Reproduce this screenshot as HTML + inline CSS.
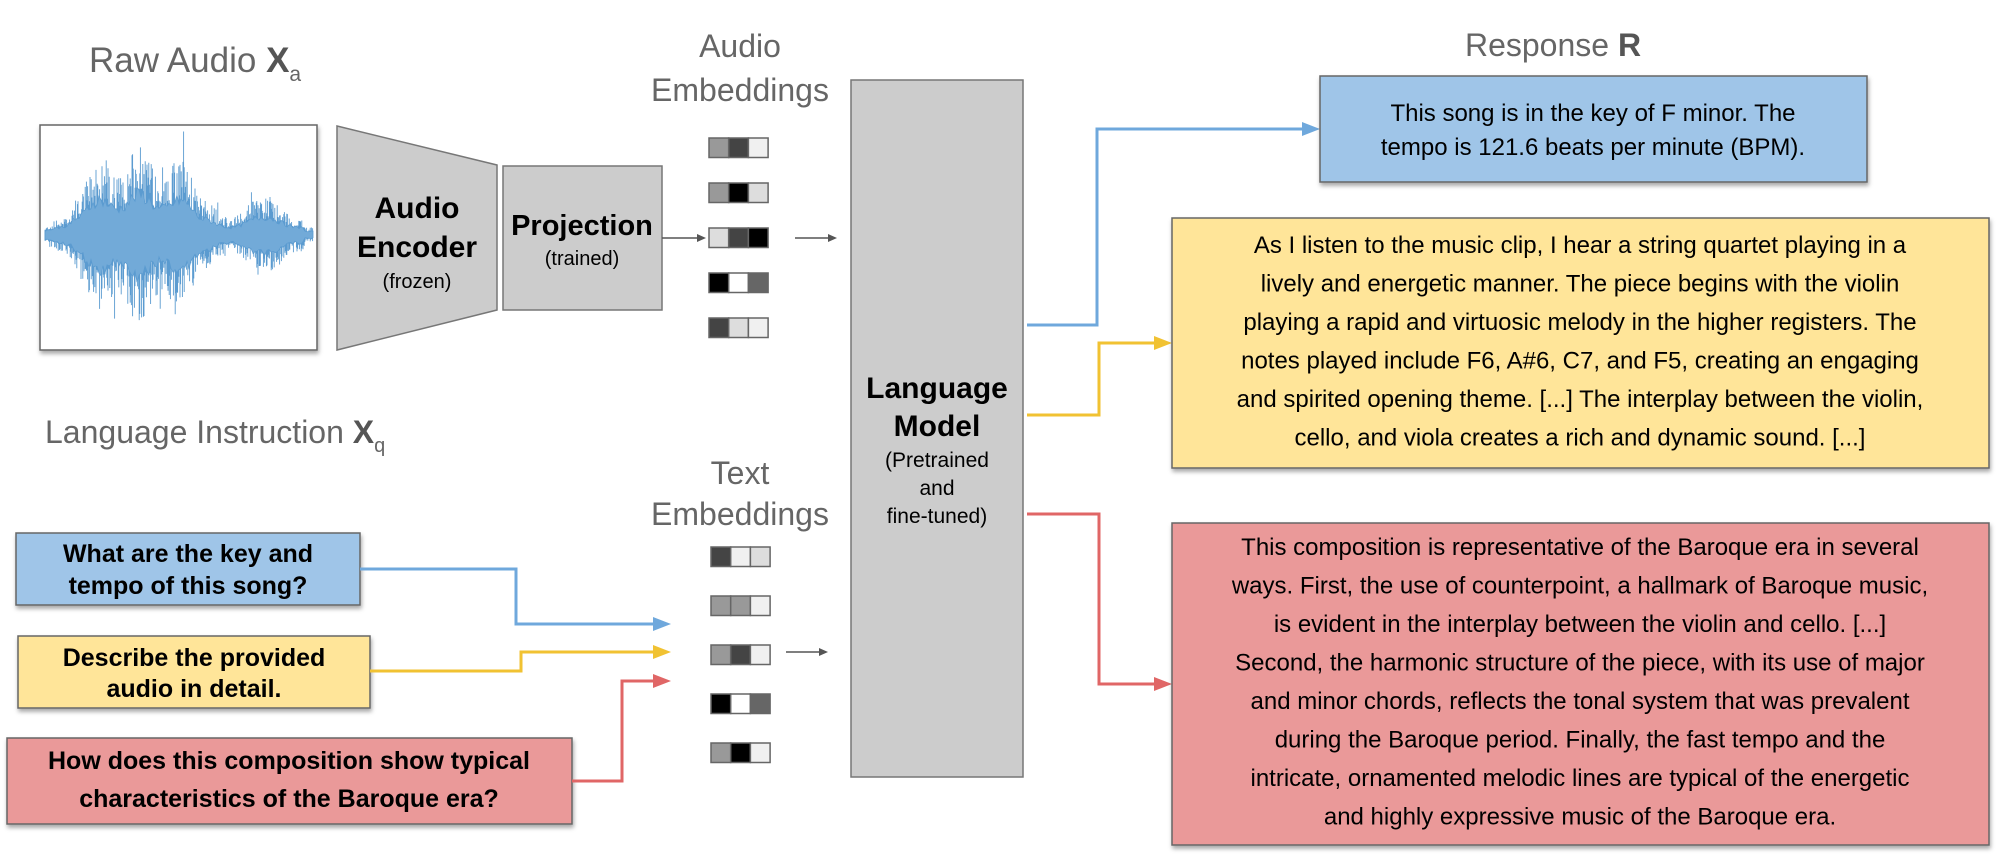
<!DOCTYPE html>
<html><head><meta charset="utf-8">
<style>
html,body{margin:0;padding:0;background:#fff;}
svg{display:block;}
text{font-family:"Liberation Sans",Arial,sans-serif;}
.t{fill:#666;font-size:32px;}
.r{fill:#000;font-size:24px;}
.q{fill:#000;font-size:25px;font-weight:bold;}
</style></head>
<body>
<svg id="s" width="1999" height="857" viewBox="0 0 1999 857" xmlns="http://www.w3.org/2000/svg">
<defs>
<filter id="sh" x="-5%" y="-5%" width="110%" height="120%"><feDropShadow dx="1" dy="3" stdDeviation="2" flood-color="#000" flood-opacity="0.35"/></filter>
</defs>
<text class="t" x="89" y="72" font-size="35" style="font-size:35px">Raw Audio <tspan font-weight="bold" fill="#555">X</tspan><tspan font-size="21" dy="9">a</tspan></text>
<text class="t" x="740" y="57" text-anchor="middle">Audio</text>
<text class="t" x="740" y="101" text-anchor="middle">Embeddings</text>
<text class="t" x="45" y="443">Language Instruction <tspan font-weight="bold" fill="#555">X</tspan><tspan font-size="20" dy="9">q</tspan></text>
<text class="t" x="740" y="484" text-anchor="middle">Text</text>
<text class="t" x="740" y="525" text-anchor="middle">Embeddings</text>
<text class="t" x="1553" y="56" text-anchor="middle">Response <tspan font-weight="bold" fill="#555">R</tspan></text>

<rect x="40" y="125" width="277" height="225" fill="#fff" stroke="#666" stroke-width="1.5" filter="url(#sh)"/>
<g id="wave"></g>

<polygon points="337,126 497,165 497,310 337,350" fill="#ccc" stroke="#777" stroke-width="1.5"/>
<text x="417" y="218" text-anchor="middle" font-size="30" font-weight="bold">Audio</text>
<text x="417" y="257" text-anchor="middle" font-size="30" font-weight="bold">Encoder</text>
<text x="417" y="288" text-anchor="middle" font-size="20">(frozen)</text>
<rect x="503" y="166" width="159" height="144" fill="#ccc" stroke="#777" stroke-width="1.5"/>
<text x="582" y="235" text-anchor="middle" font-size="29" font-weight="bold">Projection</text>
<text x="582" y="265" text-anchor="middle" font-size="20">(trained)</text>

<g stroke="#555" stroke-width="1.5" fill="#555">
<line x1="662" y1="238" x2="700" y2="238"/><polygon points="706,238 697,234 697,242" stroke="none"/>
<line x1="795" y1="238" x2="831" y2="238"/><polygon points="837,238 828,234 828,242" stroke="none"/>
<line x1="786" y1="652" x2="822" y2="652"/><polygon points="828,652 819,648 819,656" stroke="none"/>
</g>

<g id="emb" stroke="#666" stroke-width="1.5"></g>

<rect x="851" y="80" width="172" height="697" fill="#ccc" stroke="#777" stroke-width="1.5"/>
<text x="937" y="398" text-anchor="middle" font-size="30" font-weight="bold">Language</text>
<text x="937" y="436" text-anchor="middle" font-size="30" font-weight="bold">Model</text>
<text x="937" y="467" text-anchor="middle" font-size="21">(Pretrained</text>
<text x="937" y="495" text-anchor="middle" font-size="21">and</text>
<text x="937" y="523" text-anchor="middle" font-size="21">fine-tuned)</text>

<rect x="16" y="533" width="344" height="72" fill="#9fc5e8" stroke="#666" stroke-width="1.5" filter="url(#sh)"/>
<text class="q" x="188" y="562" text-anchor="middle">What are the key and</text>
<text class="q" x="188" y="594" text-anchor="middle">tempo of this song?</text>
<rect x="18" y="636" width="352" height="72" fill="#ffe599" stroke="#666" stroke-width="1.5" filter="url(#sh)"/>
<text class="q" x="194" y="666" text-anchor="middle">Describe the provided</text>
<text class="q" x="194" y="697" text-anchor="middle">audio in detail.</text>
<rect x="7" y="738" width="565" height="86" fill="#ea9999" stroke="#666" stroke-width="1.5" filter="url(#sh)"/>
<text class="q" x="289" y="769" text-anchor="middle">How does this composition show typical</text>
<text class="q" x="289" y="807" text-anchor="middle">characteristics of the Baroque era?</text>

<g fill="none" stroke-width="3">
<polyline points="360,569 516,569 516,624 657,624" stroke="#6fa8dc"/>
<polyline points="370,671 521,671 521,652 657,652" stroke="#f1c232"/>
<polyline points="572,781 622,781 622,681 657,681" stroke="#e06666"/>
</g>
<polygon points="671,624 653,617 653,631" fill="#6fa8dc"/>
<polygon points="671,652 653,645 653,659" fill="#f1c232"/>
<polygon points="671,681 653,674 653,688" fill="#e06666"/>

<g fill="none" stroke-width="3">
<polyline points="1027,325 1097,325 1097,129 1306,129" stroke="#6fa8dc"/>
<polyline points="1027,415 1099,415 1099,343 1158,343" stroke="#f1c232"/>
<polyline points="1027,514 1099,514 1099,684 1158,684" stroke="#e06666"/>
</g>
<polygon points="1320,129 1302,122 1302,136" fill="#6fa8dc"/>
<polygon points="1172,343 1154,336 1154,350" fill="#f1c232"/>
<polygon points="1172,684 1154,677 1154,691" fill="#e06666"/>

<rect x="1320" y="76" width="547" height="106" fill="#9fc5e8" stroke="#666" stroke-width="1.5" filter="url(#sh)"/>
<text class="r" x="1593" y="121" text-anchor="middle">This song is in the key of F minor. The</text>
<text class="r" x="1593" y="155" text-anchor="middle">tempo is 121.6 beats per minute (BPM).</text>

<rect x="1172" y="218" width="817" height="250" fill="#ffe599" stroke="#666" stroke-width="1.5" filter="url(#sh)"/>
<text class="r" x="1580" y="253" text-anchor="middle">As I listen to the music clip, I hear a string quartet playing in a</text>
<text class="r" x="1580" y="291.5" text-anchor="middle">lively and energetic manner. The piece begins with the violin</text>
<text class="r" x="1580" y="330" text-anchor="middle">playing a rapid and virtuosic melody in the higher registers. The</text>
<text class="r" x="1580" y="368.5" text-anchor="middle">notes played include F6, A#6, C7, and F5, creating an engaging</text>
<text class="r" x="1580" y="407" text-anchor="middle">and spirited opening theme. [...] The interplay between the violin,</text>
<text class="r" x="1580" y="445.5" text-anchor="middle">cello, and viola creates a rich and dynamic sound. [...]</text>

<rect x="1172" y="523" width="817" height="322" fill="#ea9999" stroke="#666" stroke-width="1.5" filter="url(#sh)"/>
<text class="r" x="1580" y="555" text-anchor="middle">This composition is representative of the Baroque era in several</text>
<text class="r" x="1580" y="593.5" text-anchor="middle">ways. First, the use of counterpoint, a hallmark of Baroque music,</text>
<text class="r" x="1580" y="632" text-anchor="middle">is evident in the interplay between the violin and cello. [...]</text>
<text class="r" x="1580" y="670.5" text-anchor="middle">Second, the harmonic structure of the piece, with its use of major</text>
<text class="r" x="1580" y="709" text-anchor="middle">and minor chords, reflects the tonal system that was prevalent</text>
<text class="r" x="1580" y="747.5" text-anchor="middle">during the Baroque period. Finally, the fast tempo and the</text>
<text class="r" x="1580" y="786" text-anchor="middle">intricate, ornamented melodic lines are typical of the energetic</text>
<text class="r" x="1580" y="824.5" text-anchor="middle">and highly expressive music of the Baroque era.</text>
</svg>
<script>
(function(){
var NS="http://www.w3.org/2000/svg";
var emb=document.getElementById("emb");
function row(x,y,cols){for(var i=0;i<3;i++){var r=document.createElementNS(NS,"rect");r.setAttribute("x",x+i*19.7);r.setAttribute("y",y);r.setAttribute("width",19.7);r.setAttribute("height",19.5);r.setAttribute("fill",cols[i]);emb.appendChild(r);}}
var A=[["#999","#444","#f0f0f0"],["#999","#000","#ddd"],["#ddd","#444","#000"],["#000","#fff","#666"],["#444","#ddd","#f0f0f0"]];
var ay=[138,183,228,273,318];
for(var i=0;i<5;i++)row(709,ay[i],A[i]);
var T=[["#444","#f0f0f0","#ddd"],["#999","#999","#f0f0f0"],["#999","#444","#f0f0f0"],["#000","#fff","#666"],["#999","#000","#f0f0f0"]];
var ty=[547,596,645,694,743];
for(var i=0;i<5;i++)row(711,ty[i],T[i]);
var g=document.getElementById("wave");var seed=7;function rnd(){seed=(seed*9301+49297)%233280;return seed/233280;}
var cy=235,d="";
function env(x){var t=(x-45)/268;var e=0.2;
 if(t<0.1)e=0.1+t*1.5;
 else if(t<0.6)e=0.5+0.3*Math.sin((t-0.1)/0.5*Math.PI)+0.15*Math.sin(t*40);
 else e=0.3+0.12*Math.sin(t*25);
 if(t>0.97)e=0.08;return Math.max(e,0.05);}
for(var x=45;x<=313;x+=0.6){var e=env(x)*95;var up=e*(0.35+0.65*Math.pow(rnd(),1.6));var dn=e*(0.35+0.65*Math.pow(rnd(),1.6));if(rnd()<0.03)up*=1.4;if(rnd()<0.03)dn*=1.4;d+="M"+x.toFixed(1)+" "+(cy-up).toFixed(1)+"V"+(cy+dn).toFixed(1);}
var p=document.createElementNS(NS,"path");p.setAttribute("d",d);p.setAttribute("stroke","#5b9bd0");p.setAttribute("stroke-width","0.9");p.setAttribute("fill","none");g.appendChild(p);
var top="",bot="";
for(var x=45;x<=313;x+=2){var e=env(x)*42*(0.8+0.4*rnd());top+=(x==45?"M":"L")+x+" "+(cy-e).toFixed(1);}
for(var x=313;x>=45;x-=2){var e=env(x)*42*(0.8+0.4*rnd());top+="L"+x+" "+(cy+e).toFixed(1);}
var p2=document.createElementNS(NS,"path");p2.setAttribute("d",top+"Z");p2.setAttribute("fill","#72aad8");p2.setAttribute("stroke","#5b9bd0");p2.setAttribute("stroke-width","0.8");g.appendChild(p2);
})();
</script>
</body></html>
